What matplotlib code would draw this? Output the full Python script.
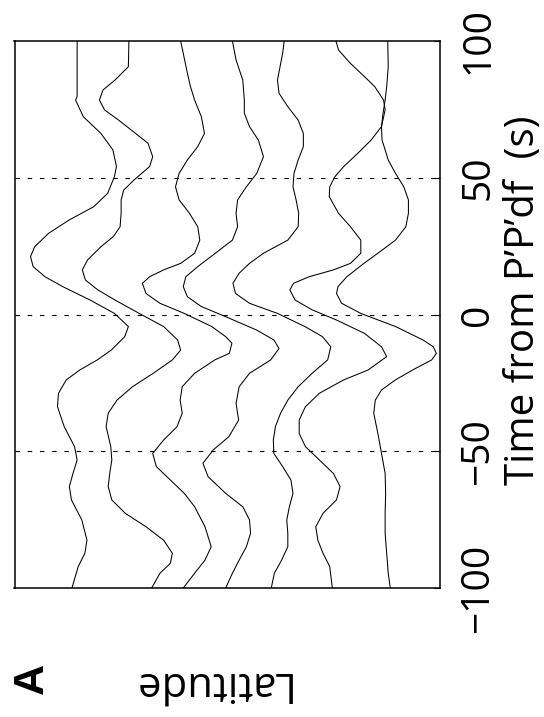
import matplotlib
matplotlib.use('Agg')
import matplotlib.pyplot as plt

time_ticks = [-100, -50, 0, 50, 100]
trace_pos = [1, 2, 3, 4, 5, 6, 7]

tr1_t = [100, 79.7, 78.4, 72.3, 66.2, 60.2, 54.1, 50.4, 44.3, 39.4, 34.6, 29.7, 24.8, 21.2, 17.5, 13.8, 10.2, 5.3, 0.4, -4.4,
         -8.1, -13.0, -16.6, -20.3, -23.9, -28.8, -33.7, -41.0, -48.3, -53.2, -58.1, -62.9, -67.8, -75.1, -82.5, -87.3, -92.2, -100]
tr1_a = [0, 0, 0.03, -0.12, -0.46, -0.69, -0.76, -0.72, -0.59, -0.32, 0.15, 0.55, 0.82, 0.90, 0.85, 0.62, 0.28, -0.25, -0.72, -0.99,
         -0.92, -0.66, -0.39, -0.05, 0.21, 0.36, 0.38, 0.25, 0.05, 0, 0.08, 0.15, 0.11, -0.09, -0.19, -0.15, -0.02, 0.10]

tr2_t = [100, 90.6, 85.7, 82.1, 78.4, 74.8, 71.1, 66.2, 62.6, 57.7, 54.1, 49.2, 45.5, 41.9, 37.0, 32.1, 28.5, 24.8, 19.9, 16.3,
         12.6, 9.0, 5.3, 0.4, -4.4, -9.3, -13.0, -16.6, -21.5, -26.4, -31.3, -36.1, -41.0, -48.3, -53.2, -58.1, -62.9, -67.8, -72.7, -77.6,
         -82.5, -87.3, -91.0, -94.6, -100]
tr2_a = [0, 0.01, 0.27, 0.50, 0.57, 0.47, 0.20, -0.13, -0.37, -0.46, -0.40, -0.10, 0.10, 0.15, 0.15, 0.17, 0.30, 0.54, 0.80, 0.90,
         0.84, 0.60, 0.27, -0.20, -0.67, -0.94, -1.00, -0.84, -0.47, -0.07, 0.23, 0.40, 0.44, 0.35, 0.33, 0.37, 0.40, 0.33, 0.07, -0.33,
         -0.67, -0.84, -0.80, -0.60, -0.44]

tr3_t = [100, 95.5, 88.2, 83.3, 78.4, 72.3, 66.2, 61.4, 56.5, 51.6, 46.7, 41.9, 37.0, 32.1, 27.2, 22.4, 18.7, 16.3, 13.8, 11.4,
         7.7, 4.1, 0.4, -4.4, -8.1, -10.5, -14.2, -16.6, -21.5, -26.4, -31.3, -36.1, -41.0, -45.9, -50.8, -55.6, -60.5, -65.4, -70.3, -77.6,
         -84.9, -89.8, -94.6, -100]
tr3_a = [0, -0.05, -0.13, -0.19, -0.27, -0.40, -0.46, -0.33, -0.13, 0.03, 0.10, 0.03, -0.17, -0.33, -0.37, -0.27, 0, 0.33, 0.60, 0.74,
         0.67, 0.40, -0.07, -0.60, -0.87, -0.99, -0.94, -0.66, -0.27, -0.03, 0.01, -0.03, 0.07, 0.33, 0.54, 0.47, 0.20, -0.07, -0.27, -0.47,
         -0.59, -0.47, -0.27, -0.05]

tr4_t = [100, 93.1, 85.7, 78.4, 73.6, 68.7, 63.8, 57.7, 51.6, 46.7, 41.9, 37.0, 32.1, 27.2, 22.4, 17.5, 13.8, 10.2, 6.5, 2.9,
         -0.8, -5.7, -9.3, -12.4, -16.6, -21.5, -26.4, -32.5, -38.6, -44.7, -49.5, -54.4, -59.3, -65.4, -70.3, -75.1, -80.0, -84.9, -89.8, -94.6,
         -100]
tr4_a = [0, -0.07, -0.20, -0.23, -0.23, -0.33, -0.50, -0.60, -0.47, -0.27, -0.10, -0.07, -0.10, 0, 0.33, 0.67, 0.90, 0.95, 0.87, 0.60,
         0.13, -0.47, -0.80, -0.90, -0.74, -0.33, -0.13, -0.07, -0.12, 0.07, 0.37, 0.57, 0.47, 0.13, -0.20, -0.33, -0.35, -0.27, -0.13, 0,
         0.13]

tr5_t = [100, 95.5, 90.6, 85.7, 80.9, 76.0, 71.1, 66.2, 61.4, 56.5, 51.6, 46.7, 41.9, 37.0, 32.1, 27.2, 22.4, 18.7, 15.1, 11.4,
         7.7, 4.1, 0.4, -4.4, -8.1, -11.8, -16.6, -21.5, -26.4, -31.3, -36.1, -41.0, -45.9, -50.8, -55.6, -60.5, -65.4, -70.3, -75.1, -80.0,
         -84.9, -89.8, -94.6, -100]
tr5_a = [0, 0.03, 0.08, 0.13, 0.10, -0.07, -0.27, -0.37, -0.37, -0.27, -0.19, -0.17, -0.23, -0.28, -0.27, -0.07, 0.40, 0.67, 0.87, 0.99,
         0.94, 0.67, 0.13, -0.40, -0.74, -0.90, -0.84, -0.54, -0.27, -0.07, 0.07, 0.17, 0.21, 0.20, 0.03, -0.13, -0.17, -0.10, -0.05, -0.07,
         -0.07, 0.05, 0.19, 0.25]

tr6_t = [100, 96.7, 91.8, 87.0, 83.3, 78.4, 74.8, 68.7, 63.8, 58.9, 54.1, 50.4, 46.7, 43.1, 37.0, 32.1, 27.2, 22.4, 18.7, 16.3,
         13.8, 11.4, 9.0, 5.3, 1.7, -2.0, -6.9, -11.8, -15.4, -20.3, -23.9, -28.8, -33.7, -38.6, -43.5, -48.3, -53.2, -58.1, -62.9, -67.8,
         -72.7, -77.6, -82.5, -87.3, -92.2, -100]
tr6_a = [0, -0.05, -0.28, -0.55, -0.75, -0.92, -0.95, -0.88, -0.68, -0.42, -0.15, 0.02, 0.12, 0.13, -0.05, -0.28, -0.48, -0.48, -0.28, 0.05,
         0.52, 0.82, 0.89, 0.79, 0.46, -0.01, -0.55, -0.88, -0.98, -0.62, -0.15, 0.32, 0.59, 0.71, 0.71, 0.59, 0.32, 0.05, -0.08, -0.01,
         0.25, 0.39, 0.35, 0.25, 0.12, 0.07]

tr7_t = [100, 90.6, 83.3, 78.4, 73.6, 68.7, 63.8, 60.2, 56.5, 51.6, 46.7, 41.9, 37.0, 32.1, 27.2, 22.4, 18.7, 13.8, 10.2, 7.7,
         4.1, 0.4, -4.4, -9.3, -11.8, -14.2, -16.6, -20.3, -23.9, -27.6, -31.3, -36.1, -43.5, -50.8, -58.1, -65.4, -72.7, -80.0, -87.3, -94.6,
         -100]
tr7_a = [0, -0.01, 0.02, 0.05, 0.09, 0.12, 0.11, 0.05, -0.01, -0.15, -0.31, -0.40, -0.40, -0.35, -0.15, 0.19, 0.46, 0.79, 0.96, 0.99,
         0.89, 0.52, -0.15, -0.68, -0.88, -0.94, -0.85, -0.48, -0.15, 0.12, 0.24, 0.27, 0.19, 0.12, 0.05, 0.04, 0.05, 0.05, 0.02, -0.01,
         -0.05]

times = [tr1_t, tr2_t, tr3_t, tr4_t, tr5_t, tr6_t, tr7_t]
amps = [tr1_a, tr2_a, tr3_a, tr4_a, tr5_a, tr6_a, tr7_a]

plt.rcParams['font.family'] = ['Open Sans', 'DejaVu Sans']

fig = plt.figure(figsize=(5.44, 7.17), dpi=100)
ax = fig.add_axes([14.5 / 544, 129 / 717, 425.5 / 544, 547 / 717])

# figure is turned on its side: time runs up, positive amplitude swings left
for pos, t, a in zip(trace_pos, times, amps):
    ax.plot([pos - v for v in a], t, color='black', lw=0.75,
            solid_joinstyle='round')

for tt in time_ticks[1:-1]:
    ax.axhline(tt, color='black', lw=0.8, linestyle=(0, (4, 7)))

ax.set_xlim(-0.21, 8.01)
ax.set_ylim(-100, 100)
ax.set_xticks([])
ax.set_yticks(time_ticks)
ax.yaxis.tick_right()
ax.tick_params(axis='y', direction='in', length=4, width=0.8, pad=14,
               labelsize=28, labelrotation=90)
for lab in ax.get_yticklabels():
    lab.set_verticalalignment('center')
for sp in ax.spines.values():
    sp.set_linewidth(1.1)

fig.text(534 / 544, 1 - 300 / 717, 'Time from P\u2019P\u2019df  (s)', rotation=90,
         rotation_mode='anchor', ha='center', va='baseline', fontsize=29)
fig.text(209 / 544, 1 - 672 / 717, 'Latitude', rotation=180,
         rotation_mode='anchor', ha='center', va='baseline', fontsize=30)
fig.text(43 / 544, 1 - 678 / 717, 'A', rotation=90, rotation_mode='anchor',
         ha='center', va='baseline', fontsize=31, fontweight='bold',
         family=['Liberation Sans', 'DejaVu Sans'])

fig.savefig('out.png', dpi=100)
